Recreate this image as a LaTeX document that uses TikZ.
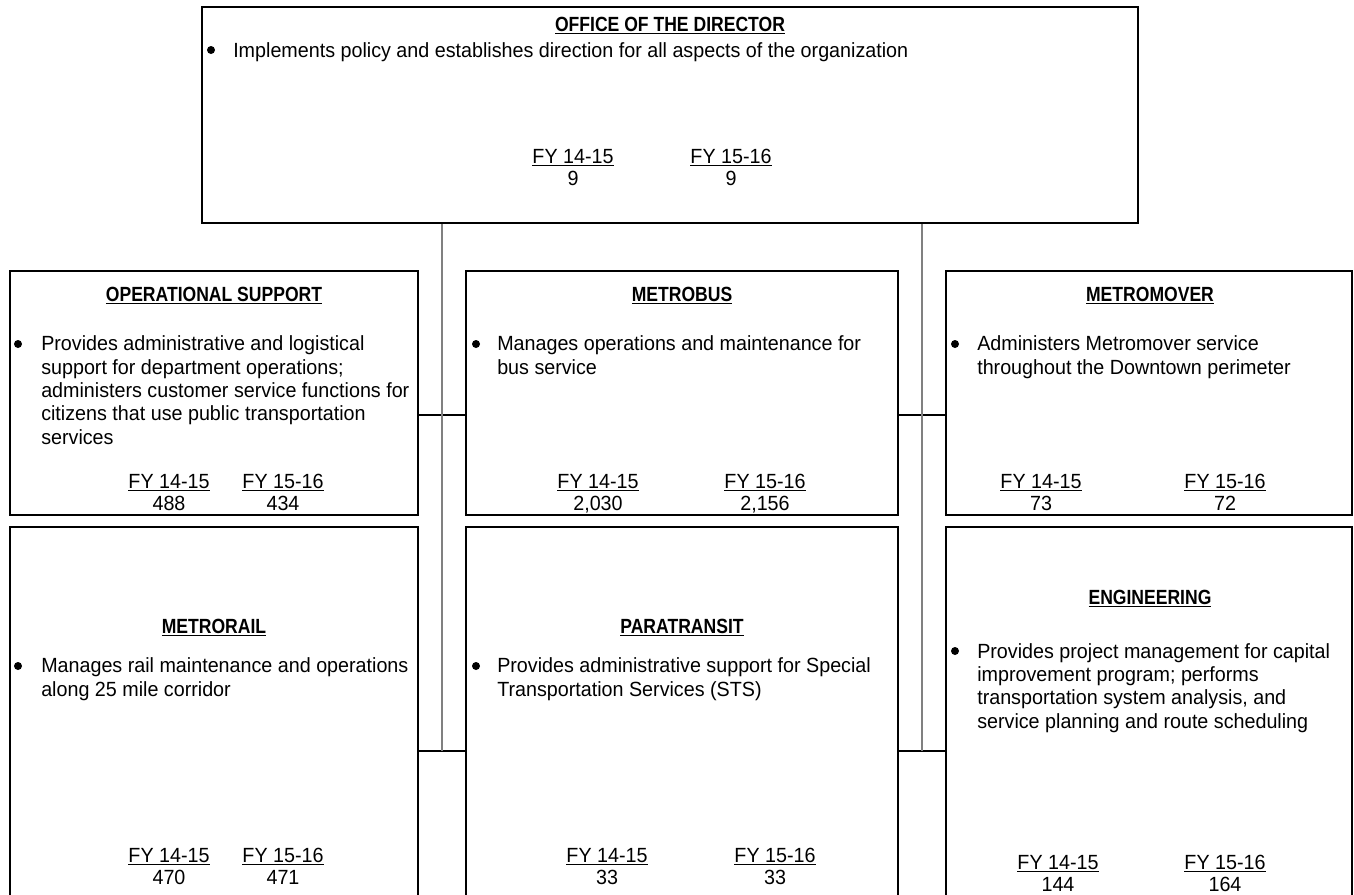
\documentclass[tikz,border=0pt]{standalone}
\usepackage{fontspec}
\setmainfont[FakeStretch=0.96, BoldFeatures={FakeStretch=0.855}]{Liberation Sans}
\newcommand{\boxfont}{\fontsize{15.4}{17.5}\selectfont}
\tikzset{
  unitbox/.style={draw, line width=1.5pt, rectangle, inner sep=0pt},
  head/.style={font=\boxfont\bfseries, inner sep=0pt, anchor=base},
  duty/.style={anchor=base west, align=left, inner sep=0pt},
  dot/.style={circle, fill=black, inner sep=0pt, minimum size=6pt},
  fy/.style={anchor=base, align=center, inner sep=0pt, font=\fontsize{15.4}{16.5}\selectfont},
  trunk/.style={draw=gray, line width=0.8pt},
  tie/.style={draw=black, line width=0.8pt}
}
\begin{document}
\begin{tikzpicture}[x=0.75pt, y=-0.75pt, font=\boxfont]
            \useasboundingbox (0,0) rectangle (1354,894);

            % boxes
            \node at (670,115) [unitbox, minimum width=702pt, minimum height=162pt] (dir) {};
            \node at (214,393) [unitbox, minimum width=306pt, minimum height=183pt] (ops) {};
            \node at (682,393) [unitbox, minimum width=324pt, minimum height=183pt] (bus) {};
            \node at (1149,393) [unitbox, minimum width=304.5pt, minimum height=183pt] (mover) {};
            \node at (214,713.5) [unitbox, minimum width=306pt, minimum height=279.75pt] (rail) {};
            \node at (682,713.5) [unitbox, minimum width=324pt, minimum height=279.75pt] (para) {};
            \node at (1149,713.5) [unitbox, minimum width=304.5pt, minimum height=279.75pt] (eng) {};

            % office of the director
            \node at (670,31) [head] (dirhead) {\underline{OFFICE OF THE DIRECTOR}};
            \node at (211,50) [dot] (dirdot) {};
            \node at (233,57) [duty] (dirtext) {Implements policy and establishes direction for all aspects of the organization};
            \node at (573,185) [fy] (dirfya) {\underline{FY 14-15}\\9};
            \node at (731,185) [fy] (dirfyb) {\underline{FY 15-16}\\9};

            % operational support
            \node at (214,301) [head] (opshead) {\underline{OPERATIONAL SUPPORT}};
            \node at (18,344) [dot] (opsdot) {};
            \node at (41,444) [duty] (opstext) {Provides administrative and logistical\\support for department operations;\\administers customer service functions for\\citizens that use public transportation\\services};
            \node at (169,510) [fy] (opsfya) {\underline{FY 14-15}\\488};
            \node at (283,510) [fy] (opsfyb) {\underline{FY 15-16}\\434};

            % metrobus
            \node at (682,301) [head] (bushead) {\underline{METROBUS}};
            \node at (476,344) [dot] (busdot) {};
            \node at (497,374) [duty] (bustext) {Manages operations and maintenance for\\bus service};
            \node at (598,510) [fy] (busfya) {\underline{FY 14-15}\\2,030};
            \node at (765,510) [fy] (busfyb) {\underline{FY 15-16}\\2,156};

            % metromover
            \node at (1150,301) [head] (moverhead) {\underline{METROMOVER}};
            \node at (955,344) [dot] (moverdot) {};
            \node at (977,374) [duty] (movertext) {Administers Metromover service\\throughout the Downtown perimeter};
            \node at (1041,510) [fy] (moverfya) {\underline{FY 14-15}\\73};
            \node at (1225,510) [fy] (moverfyb) {\underline{FY 15-16}\\72};

            % metrorail
            \node at (214,633) [head] (railhead) {\underline{METRORAIL}};
            \node at (18,666) [dot] (raildot) {};
            \node at (41,696) [duty] (railtext) {Manages rail maintenance and operations\\along 25 mile corridor};
            \node at (169,884) [fy] (railfya) {\underline{FY 14-15}\\470};
            \node at (283,884) [fy] (railfyb) {\underline{FY 15-16}\\471};

            % paratransit
            \node at (682,633) [head] (parahead) {\underline{PARATRANSIT}};
            \node at (476,666) [dot] (paradot) {};
            \node at (497,696) [duty] (paratext) {Provides administrative support for Special\\Transportation Services (STS)};
            \node at (607,884) [fy] (parafya) {\underline{FY 14-15}\\33};
            \node at (775,884) [fy] (parafyb) {\underline{FY 15-16}\\33};

            % engineering
            \node at (1150,604) [head] (enghead) {\underline{ENGINEERING}};
            \node at (955,651) [dot] (engdot) {};
            \node at (977,728) [duty] (engtext) {Provides project management for capital\\improvement program; performs\\transportation system analysis, and\\service planning and route scheduling};
            \node at (1058,891) [fy] (engfya) {\underline{FY 14-15}\\144};
            \node at (1225,891) [fy] (engfyb) {\underline{FY 15-16}\\164};

            % connectors
            \coordinate (lmid) at (442,415);
            \coordinate (rmid) at (922,415);
            \coordinate (lfoot) at (442,751);
            \coordinate (rfoot) at (922,751);

            \draw[tie] (ops.east |- lmid) -- (bus.west |- lmid);
            \draw[tie] (bus.east |- rmid) -- (mover.west |- rmid);
            \draw[tie] (rail.east |- lfoot) -- (para.west |- lfoot);
            \draw[tie] (para.east |- rfoot) -- (eng.west |- rfoot);

            \draw[trunk] (dir.south -| lfoot) -- (lfoot);
            \draw[trunk] (dir.south -| rfoot) -- (rfoot);
        \end{tikzpicture}
\end{document}
